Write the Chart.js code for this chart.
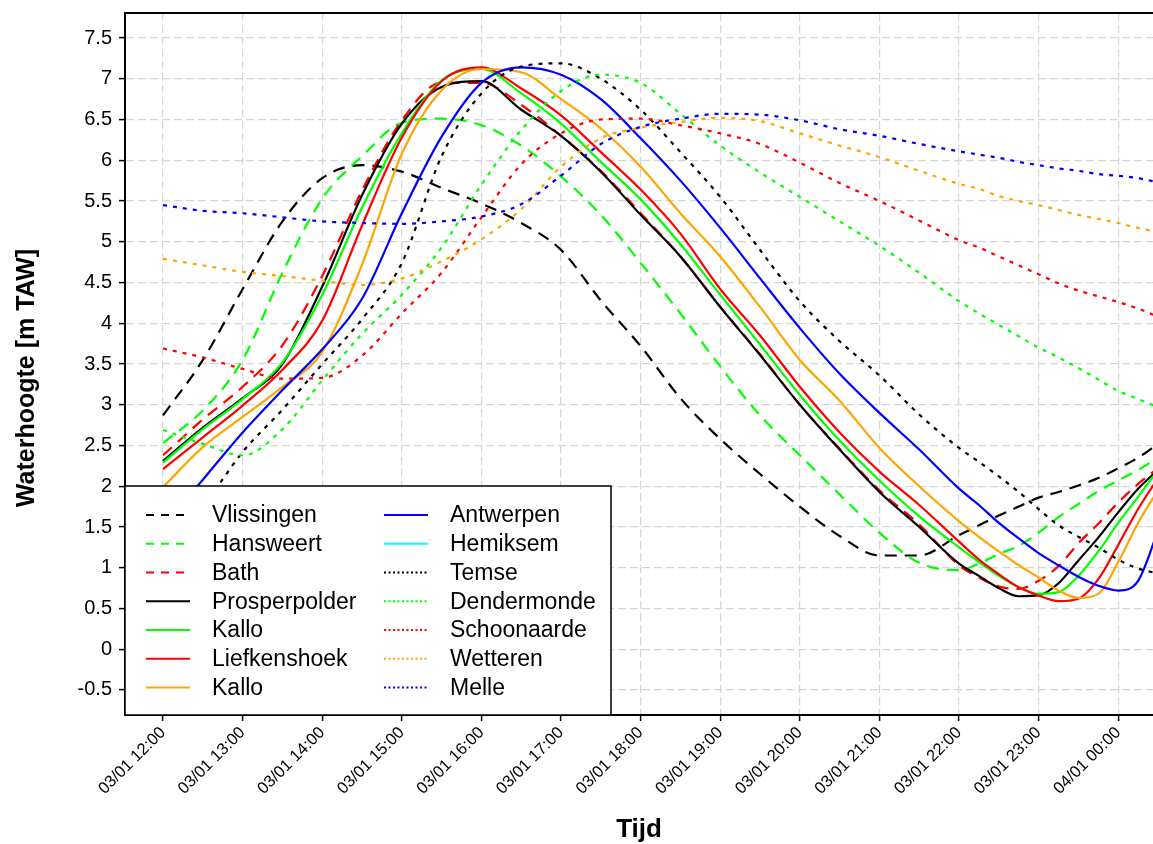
<!DOCTYPE html>
<html>
<head>
<meta charset="utf-8">
<title>Waterhoogte</title>
<script src="https://cdn.jsdelivr.net/npm/chart.js@4.4.0/dist/chart.umd.min.js"></script>
<style>
  html, body { margin: 0; padding: 0; background: #fff; }
  canvas { display: block; }
</style>
</head>
<body>
<canvas id="chart" width="1153" height="844"></canvas>
<script>
// tijd in uren na 03/01 12:00
const tijden = [0, 0.5, 1, 1.5, 2, 2.5, 3, 3.5, 4, 4.5, 5, 5.5, 6, 6.5, 7, 7.5, 8, 8.5, 9, 9.5, 10,
  10.25, 10.5, 10.75, 11, 11.25, 11.5, 11.75, 12, 12.25, 12.5]

const tickLabels = ["03/01 12:00", "03/01 13:00", "03/01 14:00", "03/01 15:00", "03/01 16:00",
  "03/01 17:00", "03/01 18:00", "03/01 19:00", "03/01 20:00", "03/01 21:00", "03/01 22:00",
  "03/01 23:00", "04/01 00:00"]

const vlissingen = [2.87, 3.55, 4.42, 5.25, 5.78, 5.94, 5.86, 5.66, 5.47, 5.23, 4.9, 4.28, 3.72, 3.08, 2.58, 2.15, 1.75, 1.39, 1.15, 1.15, 1.4,
  1.52, 1.64, 1.75, 1.86, 1.93, 2.01, 2.1, 2.22, 2.35, 2.52]
const hansweert = [2.53, 2.93, 3.55, 4.62, 5.53, 6.05, 6.46, 6.51, 6.43, 6.18, 5.8, 5.33, 4.74, 4.12, 3.47, 2.87, 2.38, 1.9, 1.43, 1.06, 0.97,
  1.05, 1.17, 1.27, 1.43, 1.62, 1.78, 1.94, 2.07, 2.2, 2.35]
const bath = [2.38, 2.82, 3.22, 3.73, 4.58, 5.63, 6.49, 6.95, 6.95, 6.68, 6.3, 5.87, 5.35, 4.82, 4.2, 3.62, 3.0, 2.46, 1.95, 1.53, 1.03,
  0.88, 0.77, 0.74, 0.84, 1.02, 1.3, 1.54, 1.8, 2.03, 2.22]
const prosperpolder = [2.31, 2.72, 3.08, 3.5, 4.45, 5.57, 6.45, 6.9, 6.97, 6.62, 6.3, 5.86, 5.33, 4.82, 4.2, 3.61, 3.0, 2.45, 1.93, 1.5, 1.05,
  0.9, 0.75, 0.65, 0.66, 0.81, 1.09, 1.37, 1.68, 1.97, 2.2]
const kallo = [2.29, 2.7, 3.07, 3.52, 4.35, 5.42, 6.33, 6.98, 7.12, 6.82, 6.45, 5.98, 5.52, 4.97, 4.35, 3.74, 3.12, 2.56, 2.07, 1.63, 1.25,
  1.07, 0.9, 0.76, 0.68, 0.7, 0.9, 1.2, 1.55, 1.87, 2.2]
const liefkenshoek = [2.21, 2.6, 2.99, 3.43, 4.03, 5.2, 6.28, 6.97, 7.14, 6.88, 6.55, 6.1, 5.64, 5.1, 4.42, 3.85, 3.22, 2.66, 2.18, 1.77, 1.32,
  1.1, 0.92, 0.76, 0.66, 0.59, 0.62, 0.86, 1.28, 1.72, 2.1]
const kalloOranje = [1.99, 2.48, 2.85, 3.22, 3.65, 4.72, 6.08, 6.86, 7.12, 7.08, 6.75, 6.39, 5.92, 5.35, 4.82, 4.2, 3.55, 3.05, 2.47, 2.0, 1.57,
  1.38, 1.2, 1.03, 0.88, 0.72, 0.63, 0.68, 1.07, 1.55, 1.95]
const antwerpen = [1.5, 2.08, 2.66, 3.18, 3.68, 4.3, 5.35, 6.29, 6.95, 7.14, 7.05, 6.75, 6.27, 5.75, 5.17, 4.55, 3.94, 3.38, 2.9, 2.45, 1.97,
  1.77, 1.55, 1.36, 1.18, 1.03, 0.89, 0.78, 0.72, 0.84, 1.45]
const hemiksem = []
const temse = [1.2, 1.75, 2.42, 2.94, 3.5, 4.05, 4.74, 6.05, 6.82, 7.15, 7.19, 7.0, 6.62, 6.1, 5.55, 4.9, 4.27, 3.78, 3.36, 2.88, 2.47,
  2.3, 2.12, 1.93, 1.72, 1.52, 1.38, 1.25, 1.1, 0.99, 0.93]
const dendermonde = [2.69, 2.52, 2.38, 2.7, 3.3, 3.87, 4.35, 4.93, 5.7, 6.37, 6.85, 7.05, 6.95, 6.57, 6.18, 5.85, 5.55, 5.25, 4.95, 4.62, 4.27,
  4.12, 3.98, 3.84, 3.7, 3.58, 3.45, 3.31, 3.17, 3.07, 2.97]
const schoonaarde = [3.69, 3.58, 3.44, 3.32, 3.33, 3.6, 4.12, 4.62, 5.3, 5.95, 6.33, 6.5, 6.51, 6.43, 6.33, 6.2, 5.97, 5.72, 5.5, 5.26, 5.02,
  4.93, 4.82, 4.71, 4.6, 4.49, 4.4, 4.33, 4.26, 4.18, 4.08]
const wetteren = [4.79, 4.71, 4.63, 4.58, 4.52, 4.47, 4.55, 4.76, 5.03, 5.4, 5.92, 6.27, 6.4, 6.47, 6.52, 6.48, 6.33, 6.18, 6.04, 5.87, 5.71,
  5.65, 5.56, 5.5, 5.45, 5.39, 5.33, 5.28, 5.23, 5.17, 5.12]
const melle = [5.45, 5.38, 5.35, 5.3, 5.25, 5.23, 5.22, 5.25, 5.31, 5.46, 5.81, 6.2, 6.41, 6.51, 6.57, 6.56, 6.49, 6.38, 6.3, 6.2, 6.11,
  6.07, 6.03, 5.98, 5.94, 5.9, 5.87, 5.83, 5.81, 5.78, 5.73]

const DASH = [12, 8]
const DOT = [4, 6]
const FONT = "'Liberation Sans', Arial, sans-serif"

const reeksen = [
  { label: "Vlissingen", values: vlissingen, color: "#000000", dash: DASH },
  { label: "Hansweert", values: hansweert, color: "#00ff00", dash: DASH },
  { label: "Bath", values: bath, color: "#ff0000", dash: DASH },
  { label: "Prosperpolder", values: prosperpolder, color: "#000000", dash: [] },
  { label: "Kallo", values: kallo, color: "#00ff00", dash: [] },
  { label: "Liefkenshoek", values: liefkenshoek, color: "#ff0000", dash: [] },
  { label: "Kallo", values: kalloOranje, color: "#ffa500", dash: [] },
  { label: "Antwerpen", values: antwerpen, color: "#0000ff", dash: [] },
  { label: "Hemiksem", values: hemiksem, color: "#00ffff", dash: [] },
  { label: "Temse", values: temse, color: "#000000", dash: DOT },
  { label: "Dendermonde", values: dendermonde, color: "#00ff00", dash: DOT },
  { label: "Schoonaarde", values: schoonaarde, color: "#ff0000", dash: DOT },
  { label: "Wetteren", values: wetteren, color: "#ffa500", dash: DOT },
  { label: "Melle", values: melle, color: "#0000ff", dash: DOT },
]

// legenda in een kader linksonder, kader bovenlijn en y-astitel
const boxLegend = {
  id: "boxLegend",
  afterDatasetsDraw(chart) {
    const ctx = chart.ctx
    const { left, bottom } = chart.chartArea
    const top = 486
    const width = 486
    ctx.save()
    ctx.fillStyle = "#ffffff"
    ctx.fillRect(left, top, width, bottom - top)
    ctx.strokeStyle = "#000000"
    ctx.lineWidth = 1.5
    ctx.strokeRect(left, top, width, bottom - top)
    ctx.font = "23px " + FONT
    ctx.textBaseline = "middle"
    ctx.textAlign = "left"
    reeksen.forEach((r, i) => {
      const col = i < 7 ? 0 : 1
      const row = i % 7
      const y = 515 + row * 28.75
      const x = col === 0 ? 146 : 384
      ctx.strokeStyle = r.color
      ctx.lineWidth = 2
      ctx.setLineDash(r.dash.length ? (r.dash === DASH ? [8, 7] : [2, 2.5]) : [])
      ctx.beginPath()
      ctx.moveTo(x, y)
      ctx.lineTo(x + 44, y)
      ctx.stroke()
      ctx.setLineDash([])
      ctx.fillStyle = "#000000"
      ctx.fillText(r.label, x + 66, y + 1)
    })
    ctx.restore()
  },
  afterDraw(chart) {
    const ctx = chart.ctx
    const { left, right, top } = chart.chartArea
    ctx.save()
    ctx.strokeStyle = "#000000"
    ctx.lineWidth = 2
    ctx.beginPath()
    ctx.moveTo(left - 1, top)
    ctx.lineTo(right, top)
    ctx.stroke()
    ctx.translate(27, 378)
    ctx.rotate(-Math.PI / 2)
    ctx.font = "bold 25px " + FONT
    ctx.fillStyle = "#000000"
    ctx.textAlign = "center"
    ctx.textBaseline = "middle"
    ctx.fillText("Waterhoogte [m TAW]", 0, 0)
    ctx.restore()
  },
}

const canvas = document.getElementById("chart")
new Chart(canvas, {
  type: "line",
  data: {
    datasets: reeksen.map((r, i) => ({
      label: r.label,
      data: r.values.map((v, j) => ({ x: tijden[j], y: v })),
      borderColor: r.color,
      backgroundColor: r.color,
      borderDash: r.dash,
      borderWidth: 2.2,
      pointRadius: 0,
      fill: false,
      cubicInterpolationMode: "monotone",
      order: reeksen.length - i,
    })),
  },
  options: {
    responsive: false,
    animation: false,
    devicePixelRatio: 1,
    layout: { padding: { top: 13, right: 0, bottom: 0, left: 0 } },
    plugins: { legend: { display: false }, tooltip: { enabled: false } },
    scales: {
      x: {
        type: "linear",
        min: -0.478,
        max: 12.437,
        afterFit: (scale) => {
          scale.height = 129
          scale.paddingLeft = 0
          scale.paddingRight = 0
        },
        grid: { color: "#d6d6d6", lineWidth: 1.2, tickColor: "#000000", tickLength: 6, tickWidth: 1.5 },
        border: { display: true, color: "#000000", width: 2, dash: [8, 4] },
        ticks: {
          stepSize: 1,
          includeBounds: false,
          autoSkip: false,
          minRotation: 45,
          maxRotation: 45,
          padding: 2,
          color: "#000000",
          font: { family: FONT, size: 16.5 },
          callback: (v) => tickLabels[Math.round(v)] || "",
        },
        title: {
          display: true,
          text: "Tijd",
          color: "#000000",
          font: { family: FONT, size: 26, weight: "bold", lineHeight: 1 },
          padding: { top: 0, bottom: 1 },
        },
      },
      y: {
        type: "linear",
        min: -0.807,
        max: 7.807,
        afterFit: (scale) => {
          scale.width = 125
          scale.paddingTop = 0
          scale.paddingBottom = 0
        },
        grid: { color: "#d6d6d6", lineWidth: 1.2, tickColor: "#000000", tickLength: 6, tickWidth: 1.5 },
        border: { display: true, color: "#000000", width: 2, dash: [8, 4] },
        ticks: {
          stepSize: 0.5,
          includeBounds: false,
          padding: 7,
          color: "#000000",
          font: { family: FONT, size: 20 },
          callback: (v) => String(Math.round(v * 10) / 10),
        },
        title: { display: false },
      },
    },
  },
  plugins: [boxLegend],
})
</script>
</body>
</html>
